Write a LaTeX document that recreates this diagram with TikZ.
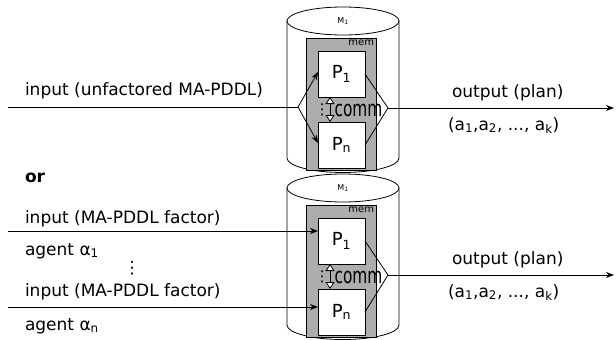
\documentclass[tikz,border=0pt]{standalone}
\usepackage{fontspec}
\setmainfont{DejaVu Sans}
\usepackage{graphicx}
\usetikzlibrary{arrows.meta}
\begin{document}
\begin{tikzpicture}[x=1pt,y=-1pt,
  every node/.style={inner sep=0pt, outer sep=0pt},
  ln/.style={line width=0.8pt},
  arr/.style={ln, -{Stealth[length=8pt,width=6pt,inset=2.5pt]}},
  txt/.style={font=\fontsize{17}{20}\selectfont, anchor=base west},
  membox/.style={draw, line width=0.8pt, fill=black!32, minimum width=70pt, minimum height=132pt},
  pbox/.style={draw, line width=0.8pt, fill=white, minimum width=47pt, minimum height=46pt, font=\fontsize{18}{20}\selectfont},
  dbl/.style={line width=0.8pt, {Triangle[fill=white,width=9pt,length=7pt]}-{Triangle[fill=white,width=9pt,length=7pt]}},
]
\useasboundingbox (0,0) rectangle (616,340);
\foreach \i/\dy in {1/0,2/167}{
  \draw[ln, fill=white] (287,{21+\dy}) -- (287,{158+\dy}) arc[start angle=180,end angle=360,x radius=56pt,y radius=14.5pt] -- (399,{21+\dy}) -- cycle;
  \draw[ln, fill=white] (343,{21+\dy}) ellipse [x radius=56pt, y radius=14pt];
  \node[font=\fontsize{8}{8}\selectfont] (m\i) at (343,{21+\dy}) {M\textsubscript{1}};
  \node[membox] (mem\i) at (341,{104+\dy}) {};
  \node[anchor=north east, font=\fontsize{10}{10}\selectfont] (ml\i) at ([xshift=-2pt,yshift=-1.5pt]mem\i.north east) {mem};
  \node[pbox] (pa\i) at (341.5,{74+\dy}) {P\textsubscript{1}};
  \node[pbox] (pn\i) at (341.5,{145+\dy}) {P\textsubscript{n}};
  \draw[dbl] ([xshift=-11.5pt]pa\i.south) -- ([xshift=-11.5pt]pn\i.north);
  \node[font=\fontsize{15}{15}\selectfont] (d\i) at (322,{110+\dy}) {⋮};
  \node[anchor=base, font=\fontsize{22}{22}\selectfont] (comm\i) at (358.5,{116+\dy}) {\scalebox{0.7}[1]{comm}};
  \coordinate (o\i) at (388,{108+\dy});
  \coordinate (oe\i) at (614,{108+\dy});
  \draw[ln] (pa\i.east) -- (o\i) -- (pn\i.east);
  \draw[arr] (o\i) -- (oe\i);
  \node[txt] (op\i) at (452,{97+\dy}) {output (plan)};
  \node[txt] (ak\i) at (448,{130+\dy}) {(a\textsubscript{1},a\textsubscript{2}, ..., a\textsubscript{k})};
}
% input 1
\coordinate (in1) at (8,107);
\coordinate (f1) at (298,107);
\draw[ln] (in1) -- (f1);
\draw[arr] (f1) -- ([yshift=2pt]pa1.west);
\draw[arr] (f1) -- ([yshift=2pt]pn1.west);
% input 2
\coordinate (ia) at (8,231);
\coordinate (ib) at (8,307);
\draw[arr] (ia) -- (ia -| pa2.west);
\draw[arr] (ib) -- (ib -| pn2.west);
% texts
\node[txt] (t1) at (25,95) {input (unfactored MA-PDDL)};
\node[txt, font=\fontsize{17}{20}\selectfont\bfseries] (or) at (25,182) {or};
\node[txt] (t2) at (25,223) {input (MA-PDDL factor)};
\node[txt] (t3) at (25,255) {agent α\textsubscript{1}};
\node[font=\fontsize{17}{20}\selectfont] (t4) at (132,268) {⋮};
\node[txt] (t5) at (25,296) {input (MA-PDDL factor)};
\node[txt] (t6) at (25,330) {agent α\textsubscript{n}};
\end{tikzpicture}
\end{document}
